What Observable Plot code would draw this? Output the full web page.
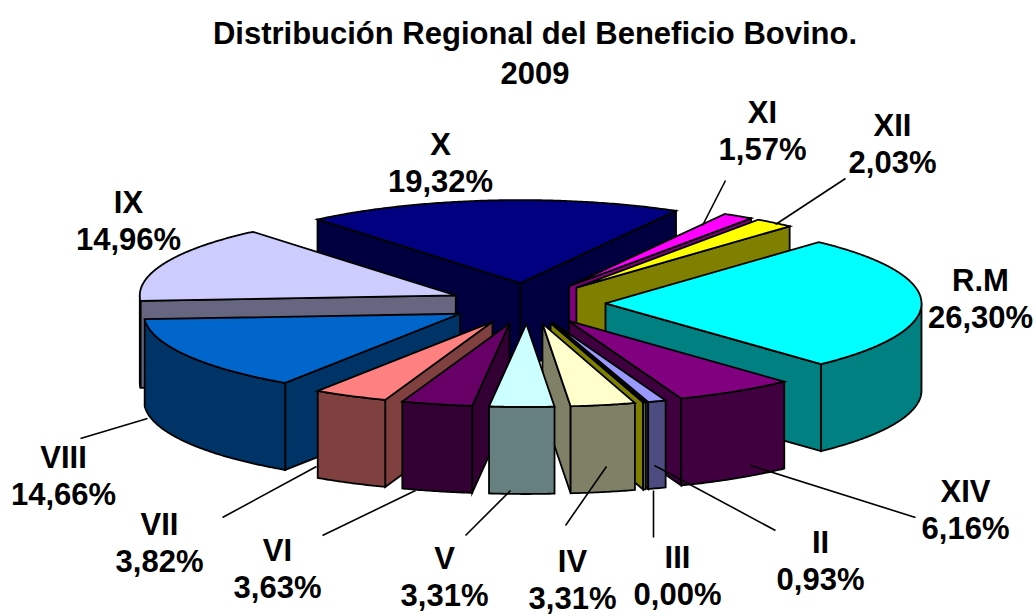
<!DOCTYPE html>
<html><head><meta charset="utf-8">
<script src="https://cdn.jsdelivr.net/npm/d3@7"></script>
<script src="https://cdn.jsdelivr.net/npm/@observablehq/plot@0.6"></script>
<style>
html,body{margin:0;padding:0;background:#fff}
#title{height:88px;width:1036px;box-sizing:border-box;padding:14px 0 0 34px;text-align:center;font:bold 31px/40px "Liberation Sans",Arial,sans-serif;color:#000}
svg{display:block}
</style></head><body>
<div id="title">Distribución Regional del Beneficio Bovino.<br>2009</div>
<div id="chart"></div>
<script>
// Data, clockwise from the R.M slice
const regions = ["R.M","XIV","II","III","IV","V","VI","VII","VIII","IX","X","XI","XII"];
const shares  = [26.30,6.16,0.93,0.00,3.31,3.31,3.63,3.82,14.66,14.96,19.32,1.57,2.03];
const shareLabels = ["26,30%","6,16%","0,93%","0,00%","3,31%","3,31%","3,63%","3,82%","14,66%","14,96%","19,32%","1,57%","2,03%"];
const topColors  = ["#00FFFF","#800080","#9999FF","#808000","#FFFFCC","#CCFFFF","#660066","#FF8080","#0066CC","#CCCCFF","#000080","#FF00FF","#FFFF00"];
const wallColors = ["#008080","#400040","#4C4C80","#808000","#808066","#668080","#330033","#804040","#003366","#666680","#000040","#800080","#808000"];

// Annotation layout (page pixels)
const labelCentres = {"R.M":[980,297],"XIV":[965,508],"II":[820,559],"III":[677,574],"IV":[572,578],"V":[444,575],
  "VI":[277,567],"VII":[159,541],"VIII":[63,474],"IX":[128,219],"X":[440,161],"XI":[762,129],"XII":[892,142]};
const leaders = [[702,225,725,180],[775,224,845,178],[750,465,915,517],[654,465,775,530],[653,490,653,537],
  [606,466,565,525],[510,490,465,535],[415,490,322,535],[316,466,222,517],[147,418,80,438]];

// 3-D pie geometry
const centre = [527,303], rx = 316, ry = 83, depth = 87, explode = 78, firstAngle = -47.55, sliverSweep = 0.5;
const rad = d => d * Math.PI / 180;
const sweeps = shares.map(v => Math.max(v * 3.6, sliverSweep));
const sweepScale = 360 / d3.sum(sweeps);

let angle = firstAngle;
const slices = regions.map((region,i) => {
  const a0 = angle, a1 = angle + sweeps[i] * sweepScale; angle = a1;
  const mid = (a0 + a1) / 2;
  const ax = centre[0] + explode * Math.cos(rad(mid)), ay = centre[1] + explode * ry / rx * Math.sin(rad(mid));
  return {region, i, a0, a1, mid, ax, ay};
});

const faces = [];
let fid = 0;
function addFace(points, fill){ const id = fid++; [...points, points[0]].forEach(([x,y]) => faces.push({x,y,id,fill})); }
const rim = (s,a) => [s.ax + rx*Math.cos(rad(a)), s.ay + ry*Math.sin(rad(a))];
const down = ([x,y]) => [x, y + depth];
const arc = (s,a,b) => { const n = Math.max(2, Math.ceil(Math.abs(b-a))*2); return d3.range(n+1).map(k => rim(s, a+(b-a)*k/n)); };

slices.slice().sort((p,q) => Math.sin(rad(p.mid)) - Math.sin(rad(q.mid))).forEach(s => {
  const wall = wallColors[s.i], top = topColors[s.i], apex = [s.ax,s.ay];
  if (Math.cos(rad(s.a0)) < 0) addFace([apex, rim(s,s.a0), down(rim(s,s.a0)), down(apex)], wall);
  if (Math.cos(rad(s.a1)) > 0) addFace([apex, rim(s,s.a1), down(rim(s,s.a1)), down(apex)], wall);
  // visible part of the outer wall: front half of the ellipse
  for (const [lo,hi] of [[0,180],[360,540],[-360,-180]]) {
    const a = Math.max(s.a0,lo), b = Math.min(s.a1,hi);
    if (b > a) { const pts = arc(s,a,b); addFace([...pts, ...pts.slice().reverse().map(down)], wall); }
  }
  addFace([apex, ...arc(s,s.a0,s.a1)], top);
});

const labels = regions.map((r,i) => ({x:labelCentres[r][0], y:labelCentres[r][1], text:r+"\n"+shareLabels[i]}));

const plot = Plot.plot({
  width:1036, height:528, margin:0,
  x:{axis:null, type:"linear", domain:[0,1036], range:[0,1036]},
  y:{axis:null, type:"linear", domain:[88,616], range:[0,528]},
  color:{type:"identity"},
  marks:[
    Plot.line(faces,{x:"x",y:"y",z:"id",fill:"fill",stroke:"#000",strokeWidth:1.8,strokeLinejoin:"miter",strokeMiterlimit:6,curve:"linear"}),
    Plot.link(leaders,{x1:d=>d[0],y1:d=>d[1],x2:d=>d[2],y2:d=>d[3],stroke:"#000",strokeWidth:1.6}),
    Plot.text(labels,{x:"x",y:"y",text:"text",fontFamily:"Liberation Sans, Arial, sans-serif",fontWeight:"bold",fontSize:31,lineHeight:1.2,fill:"#000"})
  ]
});
document.getElementById("chart").appendChild(plot);
</script>
</body></html>
